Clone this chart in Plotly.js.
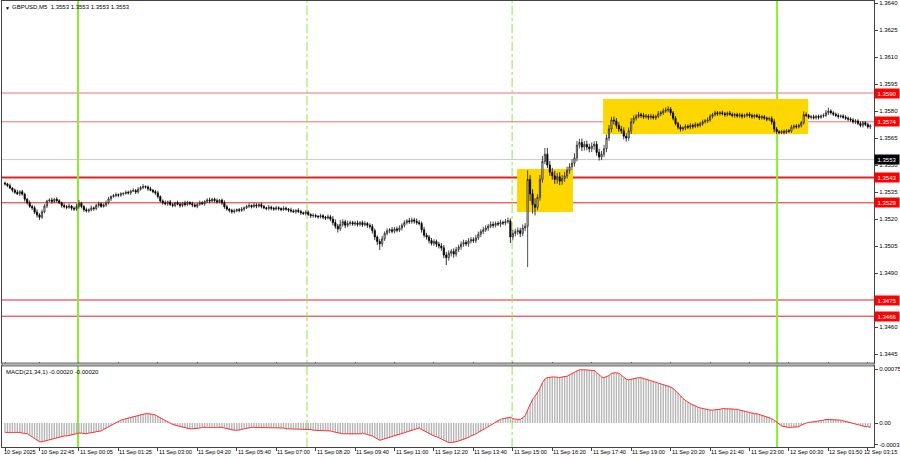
<!DOCTYPE html>
<html>
<head>
<meta charset="utf-8">
<script src="https://cdn.plot.ly/plotly-3.0.1.min.js"></script>
<style>html,body{margin:0;padding:0;background:#fff;}#chart{width:900px;height:460px;}</style>
</head>
<body>
<div id="chart"></div>
<script>
// ---- DATA (GBPUSD M5) ----
const symbolTitle = "GBPUSD,M5  1.3553 1.3553 1.3553 1.3553";
const macdTitle = "MACD(21,34,1) -0.00020 -0.00020";
const firstOpen = 1.35400;
const closePrices = [
1.35395,1.35385,1.35372,1.35360,1.35348,1.35340,1.35352,1.35338,
1.35310,1.35290,1.35270,1.35262,1.35238,1.35222,1.35210,1.35240,
1.35272,1.35300,1.35305,1.35298,1.35310,1.35302,1.35290,1.35275,
1.35268,1.35265,1.35272,1.35260,1.35255,1.35270,1.35288,1.35270,
1.35252,1.35245,1.35250,1.35262,1.35258,1.35275,1.35285,1.35270,
1.35278,1.35290,1.35312,1.35325,1.35330,1.35335,1.35332,1.35340,
1.35342,1.35348,1.35345,1.35355,1.35358,1.35350,1.35365,1.35375,
1.35380,1.35378,1.35368,1.35360,1.35352,1.35345,1.35325,1.35300,
1.35290,1.35285,1.35295,1.35280,1.35275,1.35290,1.35282,1.35275,
1.35288,1.35280,1.35292,1.35285,1.35278,1.35270,1.35282,1.35290,
1.35285,1.35298,1.35305,1.35300,1.35310,1.35302,1.35295,1.35305,
1.35290,1.35268,1.35255,1.35248,1.35240,1.35245,1.35252,1.35248,
1.35255,1.35262,1.35270,1.35275,1.35268,1.35278,1.35272,1.35280,
1.35270,1.35262,1.35258,1.35265,1.35260,1.35255,1.35262,1.35258,
1.35252,1.35260,1.35255,1.35250,1.35245,1.35240,1.35248,1.35242,
1.35235,1.35230,1.35238,1.35225,1.35218,1.35220,1.35215,1.35212,
1.35218,1.35210,1.35205,1.35212,1.35200,1.35180,1.35160,1.35145,
1.35170,1.35185,1.35165,1.35175,1.35180,1.35172,1.35178,1.35170,
1.35180,1.35168,1.35175,1.35165,1.35158,1.35135,1.35100,1.35075,
1.35062,1.35090,1.35120,1.35135,1.35140,1.35132,1.35145,1.35138,
1.35150,1.35165,1.35180,1.35190,1.35185,1.35195,1.35188,1.35180,
1.35175,1.35140,1.35110,1.35100,1.35080,1.35065,1.35075,1.35060,
1.35050,1.35040,1.35000,1.34985,1.35010,1.35020,1.35005,1.35030,
1.35045,1.35060,1.35070,1.35062,1.35078,1.35085,1.35080,1.35095,
1.35115,1.35130,1.35140,1.35150,1.35160,1.35170,1.35165,1.35175,
1.35172,1.35180,1.35178,1.35185,1.35190,1.35100,1.35120,1.35130,
1.35135,1.35120,1.35150,1.35160,1.35420,1.35340,1.35280,1.35265,
1.35320,1.35420,1.35520,1.35560,1.35500,1.35460,1.35440,1.35420,
1.35435,1.35410,1.35425,1.35440,1.35470,1.35490,1.35510,1.35540,
1.35610,1.35625,1.35600,1.35615,1.35600,1.35590,1.35605,1.35615,
1.35570,1.35545,1.35560,1.35590,1.35650,1.35700,1.35750,1.35745,
1.35720,1.35700,1.35690,1.35660,1.35650,1.35690,1.35740,1.35760,
1.35770,1.35780,1.35775,1.35768,1.35772,1.35765,1.35770,1.35762,
1.35770,1.35785,1.35790,1.35800,1.35805,1.35810,1.35790,1.35760,
1.35730,1.35710,1.35700,1.35705,1.35715,1.35710,1.35720,1.35715,
1.35725,1.35720,1.35730,1.35740,1.35745,1.35750,1.35770,1.35780,
1.35790,1.35785,1.35790,1.35785,1.35780,1.35788,1.35782,1.35775,
1.35780,1.35772,1.35778,1.35770,1.35775,1.35782,1.35775,1.35768,
1.35775,1.35770,1.35762,1.35768,1.35760,1.35755,1.35758,1.35740,
1.35700,1.35685,1.35680,1.35685,1.35682,1.35690,1.35688,1.35710,
1.35715,1.35712,1.35720,1.35735,1.35780,1.35775,1.35765,1.35768,
1.35762,1.35770,1.35765,1.35772,1.35775,1.35790,1.35800,1.35790,
1.35782,1.35775,1.35770,1.35772,1.35765,1.35760,1.35755,1.35750,
1.35740,1.35745,1.35730,1.35720,1.35735,1.35725,1.35712,1.35718
];
// upper / lower shadow of each candle, in points (0.00001)
const upperShadowPts = [
8,6,12,5,9,14,7,10,8,6,13,9,11,16,10,12,
10,7,9,13,6,11,8,7,12,9,14,6,9,15,18,8,
7,11,9,13,6,9,12,7,9,13,11,6,9,12,7,9,
6,11,9,7,13,9,12,8,14,6,9,11,7,9,12,6,
9,13,7,11,9,6,12,9,7,13,9,6,11,9,7,12,
9,6,11,14,7,9,12,6,9,13,11,7,9,12,6,9,
11,7,9,13,6,12,9,7,11,9,6,13,9,7,11,9,
7,11,9,6,13,9,7,12,9,6,11,9,7,12,9,6,
11,9,7,13,11,16,18,12,25,14,11,16,12,9,11,13,
9,11,13,9,11,14,12,9,13,16,11,13,9,15,11,13,
15,11,13,9,16,13,11,15,13,11,16,13,11,15,13,11,
13,16,15,18,16,13,17,15,13,16,15,13,16,15,13,16,
15,13,16,15,13,16,15,11,13,16,11,15,18,13,20,16,
18,16,20,17,50,25,25,35,18,25,30,35,35,22,25,28,
22,25,20,22,21,20,22,25,24,20,22,18,20,18,20,16,
18,20,18,22,20,22,18,20,16,18,17,20,16,18,20,16,
12,15,10,14,12,10,14,12,10,15,12,14,15,18,12,10,
12,10,14,10,12,10,14,10,12,9,10,12,10,14,12,10,
12,10,9,12,10,9,12,10,9,10,12,9,10,9,12,10,
9,10,12,9,10,9,10,12,15,10,9,10,12,9,10,12,
10,12,9,10,18,12,9,10,12,9,10,9,12,15,18,10,
9,10,12,9,10,12,9,10,12,10,9,12,10,9,10,9
];
const lowerShadowPts = [
10,8,6,12,9,7,11,8,13,10,8,12,10,14,15,10,
8,11,6,12,9,10,7,12,9,11,8,12,10,9,12,11,
12,9,10,7,12,9,11,8,7,10,9,12,7,9,11,8,
10,7,9,12,6,11,9,7,10,9,12,6,9,11,12,8,
11,9,12,7,10,9,6,12,9,11,7,9,12,6,10,9,
7,11,9,12,6,10,9,7,12,11,9,12,10,9,7,11,
9,12,7,10,9,6,12,9,11,7,9,10,12,9,7,11,
9,7,10,12,9,6,11,9,12,7,10,9,12,11,9,10,
9,12,11,7,12,16,14,20,11,12,16,10,12,9,11,12,
11,12,9,14,12,16,18,20,34,16,12,11,14,12,11,12,
11,14,12,11,12,11,14,12,11,16,13,14,16,12,14,16,
14,16,18,41,16,18,20,14,13,16,14,13,16,14,13,14,
12,16,14,12,16,11,14,12,11,16,12,14,11,33,18,16,
18,20,16,18,227,40,50,45,16,18,18,16,18,20,22,25,
24,22,20,18,16,18,16,18,20,18,22,20,18,20,18,20,
18,20,18,16,18,16,18,20,18,16,17,18,20,16,18,12,
12,10,14,12,10,14,12,10,12,10,14,12,10,12,15,12,
10,12,14,10,12,10,12,14,10,12,10,12,10,12,10,12,
10,12,10,9,12,10,9,10,12,9,10,12,9,10,12,10,
10,9,12,10,9,12,10,15,18,12,10,9,12,10,9,10,
12,10,9,12,10,9,10,12,9,10,12,9,10,9,12,10,
10,9,12,10,9,10,12,9,10,12,9,10,12,9,10,12
];
// MACD(21,34,1) per bar, in points (0.00001)
const macdPts = [
-13,-13,-12,-12,-12,-13,-13,-14,-14,-15,-17,-19,-21,-24,-26,-26,
-25,-24,-23,-22,-21,-21,-20,-19,-18,-18,-17,-17,-16,-15,-14,-14,
-15,-15,-14,-14,-13,-12,-12,-11,-9,-7,-5,-3,-1,1,3,4,
5,6,7,8,9,10,11,12,13,13,13,13,12,11,9,7,
5,3,1,0,-2,-3,-4,-5,-6,-7,-8,-8,-8,-8,-7,-7,
-6,-6,-5,-5,-5,-5,-5,-6,-6,-7,-8,-9,-10,-10,-10,-10,
-9,-8,-7,-7,-6,-6,-6,-6,-6,-6,-6,-6,-6,-6,-7,-7,
-7,-7,-8,-8,-8,-8,-8,-8,-8,-9,-9,-9,-9,-10,-10,-10,
-10,-10,-11,-11,-11,-12,-13,-14,-14,-15,-15,-15,-16,-16,-15,-15,
-15,-14,-15,-15,-17,-18,-20,-22,-24,-23,-22,-21,-20,-19,-18,-17,
-16,-15,-13,-12,-11,-10,-9,-8,-7,-9,-11,-13,-15,-17,-18,-19,
-20,-22,-24,-26,-27,-27,-27,-26,-25,-24,-23,-21,-20,-18,-17,-15,
-13,-11,-9,-6,-4,-2,0,2,4,5,6,7,8,8,6,5,
5,5,7,10,18,26,33,37,42,48,56,61,63,64,64,64,
63,63,64,64,65,67,69,71,73,74,74,74,74,73,73,73,
70,67,64,63,64,66,69,70,70,69,66,63,61,60,61,62,
63,63,63,62,61,60,58,57,56,55,54,53,52,52,50,48,
45,42,38,34,31,29,27,25,24,22,21,20,19,18,18,18,
18,19,19,20,20,20,20,20,19,19,18,17,16,15,14,14,
13,13,12,11,10,9,8,6,4,1,-2,-4,-5,-6,-6,-6,
-6,-6,-5,-3,-1,0,1,1,2,2,3,3,4,5,5,5,
5,5,4,4,3,2,2,1,0,-1,-2,-3,-4,-5,-5,-6
];
// time axis labels and the bar they belong to
const timeLabels = ["10 Sep 2025","10 Sep 22:45","11 Sep 00:05","11 Sep 01:25","11 Sep 03:00","11 Sep 04:20","11 Sep 05:40","11 Sep 07:00","11 Sep 08:20","11 Sep 09:40","11 Sep 11:00","11 Sep 12:20","11 Sep 13:40","11 Sep 15:00","11 Sep 16:20","11 Sep 17:40","11 Sep 19:00","11 Sep 20:20","11 Sep 21:40","11 Sep 23:00","12 Sep 00:30","12 Sep 01:50","12 Sep 03:15"];
const timeLabelBars = [0,14,30,46,62,78,94,110,126,142,158,174,190,206,222,238,254,270,286,302,318,334,350];
// price axis ticks
const priceTicks = [1.3640,1.3625,1.3610,1.3595,1.3580,1.3565,1.3550,1.3535,1.3520,1.3505,1.3490,1.3475,1.3460,1.3445];
const macdTicks = [0.00075, 0, -0.0003];
const macdTickText = ["0.00075","0.00","-0.0003"];
// horizontal levels
const redLevels = [1.3590, 1.3574, 1.3543, 1.3529, 1.3475, 1.3466];
const redLevelText = ["1.3590","1.3574","1.3543","1.3529","1.3475","1.3466"];
const currentPrice = 1.3553;
const currentPriceText = "1.3553";
// vertical lines (bar positions)
const solidVLines = [29.6, 313.2];
const dashVLines = [122.5, 205.7];
// rectangles: [barStart, barEnd, priceLow, priceHigh]
const boxBarStart = [207.7, 242.6];
const boxBarEnd = [230.4, 325.8];
const boxLow = [1.35239, 1.35672];
const boxHigh = [1.35478, 1.35867];

// ---- BUILD ----
const idx = closePrices.map((_, i) => i);
const openPrices = closePrices.map((c, i) => i === 0 ? firstOpen : closePrices[i - 1]);
const highPrices = closePrices.map((c, i) => Math.max(openPrices[i], c) + upperShadowPts[i] / 100000);
const lowPrices = closePrices.map((c, i) => Math.min(openPrices[i], c) - lowerShadowPts[i] / 100000);
const macd = macdPts.map(v => v / 100000);

const FONT = "Liberation Sans, Arial, sans-serif";
const xRange = [-1.22, 352.5];
const XLAB = {family: FONT, size: 5.6, color: '#000'};

const traces = [
  {type: 'candlestick', x: idx, open: openPrices, high: highPrices, low: lowPrices, close: closePrices,
   xaxis: 'x', yaxis: 'y', whiskerwidth: 0, hoverinfo: 'skip',
   increasing: {line: {color: '#222', width: 0.8}, fillcolor: '#ffffff'},
   decreasing: {line: {color: '#000', width: 0.8}, fillcolor: '#000000'}},
  {type: 'bar', x: idx, y: macd, xaxis: 'x', yaxis: 'y2', width: 0.55,
   marker: {color: '#b4b4b4', line: {width: 0}}, hoverinfo: 'skip'},
  {type: 'scatter', mode: 'lines', x: idx, y: macd, xaxis: 'x', yaxis: 'y2',
   line: {color: '#ff3030', width: 1}, hoverinfo: 'skip'}
];

const shapes = [];
for (let k = 0; k < boxBarStart.length; k++) {
  shapes.push({type: 'rect', layer: 'below', xref: 'x', yref: 'y', x0: boxBarStart[k], x1: boxBarEnd[k],
    y0: boxLow[k], y1: boxHigh[k], fillcolor: '#ffd700', line: {width: 0}});
}
shapes.push({type: 'line', layer: 'below', xref: 'paper', yref: 'y', x0: 0, x1: 1, y0: currentPrice, y1: currentPrice,
  line: {color: '#c8c8c8', width: 1}});
redLevels.forEach((p, k) => {
  const light = k < 2;
  shapes.push({type: 'line', layer: 'below', xref: 'paper', yref: 'y', x0: 0, x1: 1, y0: p, y1: p,
    line: {color: light ? '#f07070' : '#e82020', width: p === 1.3543 ? 2 : 1}});
});
solidVLines.forEach(v => shapes.push({type: 'line', layer: 'below', xref: 'x', yref: 'paper', x0: v, x1: v, y0: 0, y1: 1,
  line: {color: '#86ee34', width: 2}}));
dashVLines.forEach(v => shapes.push({type: 'line', layer: 'below', xref: 'x', yref: 'paper', x0: v, x1: v, y0: 0, y1: 1,
  line: {color: '#8ee83c', width: 1, dash: 'dashdot'}}));
// panel separator
shapes.push({type: 'rect', layer: 'above', xref: 'paper', yref: 'paper', x0: 0, x1: 1, y0: 0.18161, y1: 0.18834,
  fillcolor: '#b4b4b4', line: {color: '#707070', width: 1}});

const annotations = [];
annotations.push({xref: 'paper', yref: 'paper', x: 0, y: 1, xanchor: 'left', yanchor: 'top', xshift: 1, yshift: -2,
  text: '▼', showarrow: false, font: {family: FONT, size: 5, color: '#000'}});
annotations.push({xref: 'paper', yref: 'paper', x: 0, y: 1, xanchor: 'left', yanchor: 'top', xshift: 8, yshift: -1,
  text: symbolTitle, showarrow: false, font: {family: FONT, size: 6, color: '#000'}});
annotations.push({xref: 'paper', yref: 'paper', x: 0, y: 0.18161, xanchor: 'left', yanchor: 'top', xshift: 2, yshift: -1,
  text: macdTitle, showarrow: false, font: {family: FONT, size: 6, color: '#000'}});
const lastLabel = timeLabels.length - 1;
timeLabels.forEach((t, k) => {
  if (k === lastLabel) {
    annotations.push({xref: 'paper', yref: 'paper', x: 1, y: 0, xanchor: 'right', yanchor: 'top',
      xshift: 25, text: t, showarrow: false, font: XLAB});
  } else {
    annotations.push({xref: 'x', yref: 'paper', x: k === 0 ? -1.0 : timeLabelBars[k], y: 0, xanchor: 'left', yanchor: 'top',
      xshift: -1, text: t, showarrow: false, font: XLAB});
  }
});
redLevels.forEach((p, k) => {
  annotations.push({xref: 'paper', yref: 'y', x: 1, y: p, xanchor: 'left', yanchor: 'middle', xshift: 0,
    text: redLevelText[k], showarrow: false, bgcolor: '#ff0000', borderpad: 1, width: 22, height: 7,
    font: {family: FONT, size: 6, color: '#fff'}});
});
annotations.push({xref: 'paper', yref: 'y', x: 1, y: currentPrice, xanchor: 'left', yanchor: 'middle',
  text: currentPriceText, showarrow: false, bgcolor: '#000', borderpad: 1, width: 22, height: 7,
  font: {family: FONT, size: 6, color: '#fff'}});

const layout = {
  width: 900, height: 460,
  margin: {l: 2, r: 26, t: 1, b: 13, pad: 0},
  paper_bgcolor: '#fff', plot_bgcolor: '#fff',
  showlegend: false,
  font: {family: FONT, size: 6, color: '#000'},
  xaxis: {domain: [0, 1], anchor: 'y2', range: xRange, showgrid: false, zeroline: false,
    rangeslider: {visible: false}, showticklabels: false, tickmode: 'array', tickvals: timeLabelBars,
    ticks: 'outside', ticklen: 3, tickcolor: '#444', showline: true, mirror: 'all', linecolor: '#444', linewidth: 1},
  yaxis: {domain: [0.18834, 1], range: [1.3440, 1.364111], side: 'right', showgrid: false, zeroline: false,
    tickmode: 'array', tickvals: priceTicks, ticktext: priceTicks.map(v => v.toFixed(4)),
    ticks: 'outside', ticklen: 3, tickcolor: '#444', showline: true, mirror: true, linecolor: '#444', linewidth: 1,
    tickfont: {family: FONT, size: 6, color: '#000'}},
  yaxis2: {domain: [0, 0.18161], range: [-0.000333, 0.000792], side: 'right', showgrid: false, zeroline: false,
    tickmode: 'array', tickvals: macdTicks, ticktext: macdTickText,
    ticks: 'outside', ticklen: 3, tickcolor: '#444', showline: true, mirror: true, linecolor: '#444', linewidth: 1,
    tickfont: {family: FONT, size: 6, color: '#000'}},
  shapes: shapes,
  annotations: annotations
};

Plotly.newPlot('chart', traces, layout, {staticPlot: true, displayModeBar: false});
</script>
</body>
</html>
